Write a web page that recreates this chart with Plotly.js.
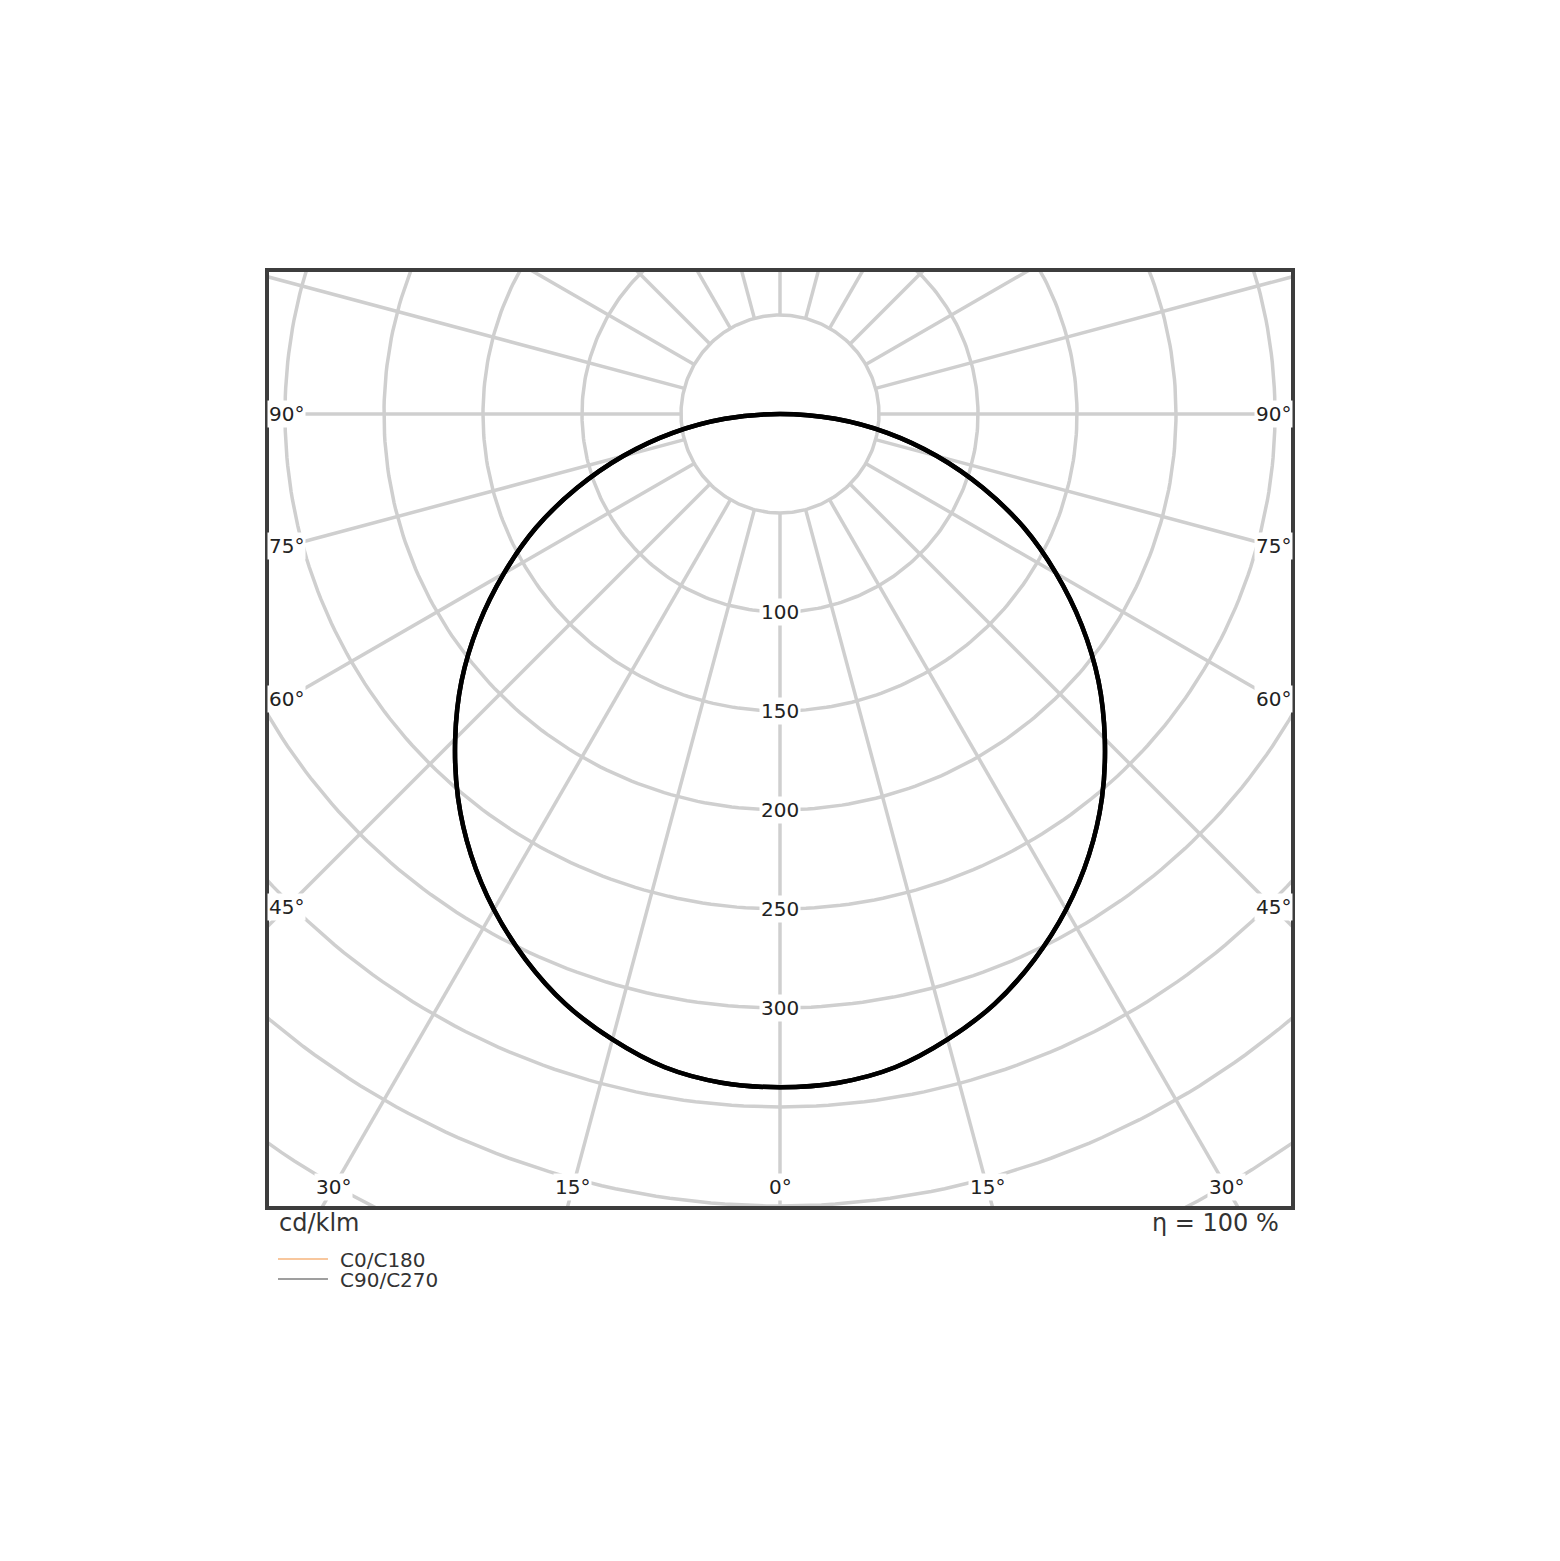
<!DOCTYPE html>
<html>
<head>
<meta charset="utf-8">
<script src="https://cdn.plot.ly/plotly-3.0.1.min.js"></script>
<style>body{margin:0;background:#fff}</style>
</head>
<body>
<div id="graph" style="width:1560px;height:1561px"></div>
<script>
// intensity in cd/klm per gamma angle, the same on both C planes
const gammaDeg = [0, 5, 10, 15, 20, 25, 30, 35, 40, 45, 50, 55, 60, 65, 70, 75, 80, 85, 90];
const c0c180 = [340, 339, 335, 327, 317, 304, 289, 272, 253, 232, 210, 186, 161, 136, 109, 82, 55, 28, 0];
const c90c270 = [340, 339, 335, 327, 317, 304, 289, 272, 253, 232, 210, 186, 161, 136, 109, 82, 55, 28, 0];

const gridRadii = [50, 100, 150, 200, 250, 300, 350, 400, 450, 500];
const spokeAngles = [0, 15, 30, 45, 60, 75, 90, 105, 120, 135, 150, 165, 180, 195, 210, 225, 240, 255, 270, 285, 300, 315, 330, 345];
const radialLabels = [100, 150, 200, 250, 300];
const angleLabels = [-90, -75, -60, -45, -30, -15, 0, 15, 30, 45, 60, 75, 90];

const FONT = 'DejaVu Sans, Arial, sans-serif';
const rad = d => d * Math.PI / 180;

main();

function main() {
    let traces = [];
    traces.push(circlesTrace());
    traces.push(spokesTrace());
    traces.push(curveTrace(c0c180, 'C0/C180'));
    traces.push(curveTrace(c90c270, 'C90/C270'));

    let annotations = [];
    // radial value labels, down the 0° line
    for (let r of radialLabels) {
        annotations.push({
            x: 0, y: -r, xref: 'x', yref: 'y', text: String(r), showarrow: false,
            bgcolor: 'white', borderpad: 1, font: {family: FONT, size: 20, color: '#222'}
        });
    }
    // angle labels where the spokes reach the frame (a little inside it)
    let xIn = 249, yIn = 390.4;
    for (let a of angleLabels) {
        let s = Math.sin(rad(a)), c = Math.cos(rad(a));
        let t = Infinity;
        if (Math.abs(s) > 1e-9) t = Math.min(t, xIn / Math.abs(s));
        if (c > 1e-9) t = Math.min(t, yIn / c);
        annotations.push({
            x: t * s, y: -t * c, xref: 'x', yref: 'y', text: Math.abs(a) + '°', showarrow: false,
            bgcolor: 'white', borderpad: 1, font: {family: FONT, size: 20, color: '#222'}
        });
    }
    annotations.push({
        x: 0.0078, y: -0.0182, xref: 'paper', yref: 'paper', xanchor: 'left', yanchor: 'middle',
        text: 'cd/klm', showarrow: false, font: {family: FONT, size: 24, color: '#333'}
    });
    annotations.push({
        x: 0.9902, y: -0.0182, xref: 'paper', yref: 'paper', xanchor: 'right', yanchor: 'middle',
        text: 'η = 100 %', showarrow: false, font: {family: FONT, size: 24, color: '#333'}
    });

    // hand-made legend, tighter than plotly's own
    let legend = [['C0/C180', '#f6b47c', -0.0567], ['C90/C270', '#7f7f7f', -0.0782]];
    let shapes = [];
    for (let [name, color, y] of legend) {
        shapes.push({
            type: 'line', xref: 'paper', yref: 'paper', x0: 0.0088, x1: 0.0577, y0: y, y1: y,
            line: {color: color, width: 1.5}
        });
        annotations.push({
            x: 0.0675, y: y - 0.001, xref: 'paper', yref: 'paper', xanchor: 'left', yanchor: 'middle',
            text: name, showarrow: false, font: {family: FONT, size: 20, color: '#333'}
        });
    }

    let axis = {
        showgrid: false, zeroline: false, showticklabels: false, ticks: '',
        showline: true, mirror: true, linecolor: '#3d3d3d', linewidth: 4, fixedrange: true
    };
    var layout = {
        width: 1560,
        height: 1561,
        margin: {l: 269, r: 269, t: 272, b: 355},
        paper_bgcolor: 'white',
        plot_bgcolor: 'white',
        showlegend: false,
        xaxis: Object.assign({range: [-258.08, 258.08]}, axis),
        yaxis: Object.assign({range: [-400, 71.72]}, axis),
        annotations: annotations,
        shapes: shapes
    };
    Plotly.newPlot('graph', traces, layout, {displayModeBar: false, staticPlot: true});
}

function circlesTrace() {
    let x = [], y = [];
    for (let r of gridRadii) {
        for (let d = 0; d <= 360; d += 1) {
            x.push(r * Math.sin(rad(d)));
            y.push(-r * Math.cos(rad(d)));
        }
        x.push(null); y.push(null);
    }
    return {x: x, y: y, mode: 'lines', line: {color: '#cfcfcf', width: 3.5}, hoverinfo: 'skip'};
}

function spokesTrace() {
    let x = [], y = [];
    let inner = gridRadii[0], outer = 700;
    for (let a of spokeAngles) {
        x.push(inner * Math.sin(rad(a)), outer * Math.sin(rad(a)), null);
        y.push(-inner * Math.cos(rad(a)), -outer * Math.cos(rad(a)), null);
    }
    return {x: x, y: y, mode: 'lines', line: {color: '#cfcfcf', width: 3.5}, hoverinfo: 'skip'};
}

// one C plane: left half (C180/C270) then right half (C0/C90)
function curveTrace(vals, name) {
    let x = [], y = [];
    for (let i = gammaDeg.length - 1; i >= 0; i--) {
        x.push(-vals[i] * Math.sin(rad(gammaDeg[i])));
        y.push(-vals[i] * Math.cos(rad(gammaDeg[i])));
    }
    for (let i = 1; i < gammaDeg.length; i++) {
        x.push(vals[i] * Math.sin(rad(gammaDeg[i])));
        y.push(-vals[i] * Math.cos(rad(gammaDeg[i])));
    }
    return {x: x, y: y, name: name, mode: 'lines', line: {color: 'black', width: 4.5, shape: 'spline'}, hoverinfo: 'skip'};
}
</script>
</body>
</html>
